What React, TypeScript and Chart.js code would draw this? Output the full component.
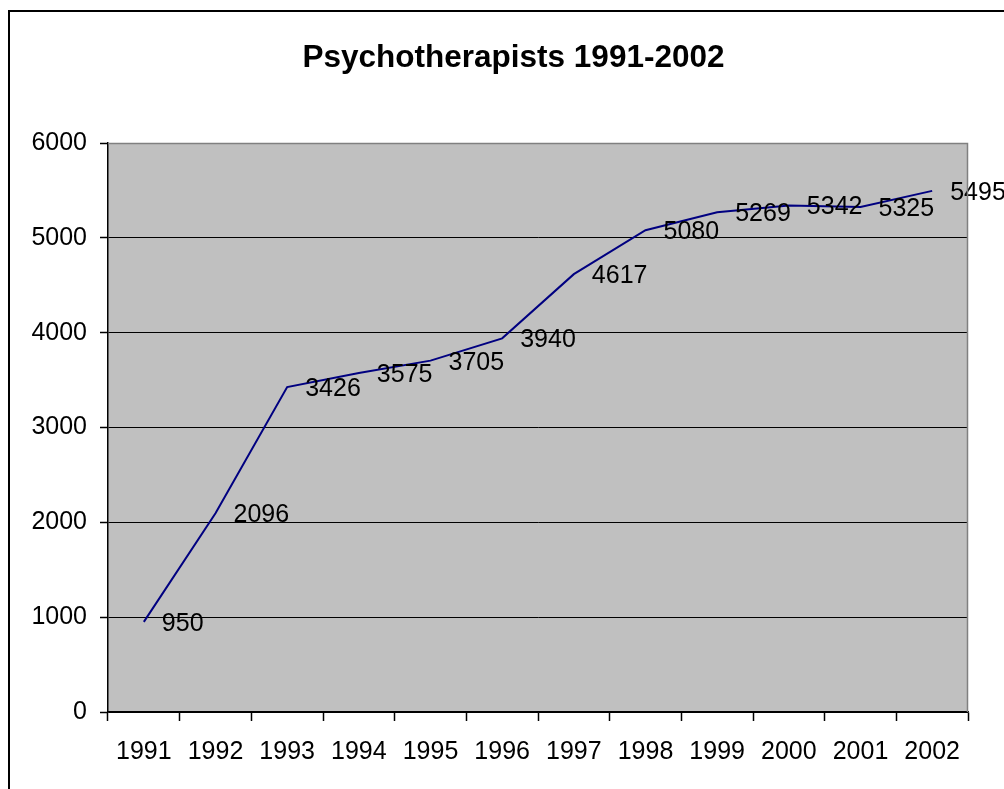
import React, { useEffect, useRef } from "react";
import { Chart, registerables } from "chart.js";

Chart.register(...registerables);

const TITLE = "Psychotherapists 1991-2002";
const years = ["1991", "1992", "1993", "1994", "1995", "1996", "1997", "1998", "1999", "2000", "2001", "2002"];
const therapists = [950, 2096, 3426, 3575, 3705, 3940, 4617, 5080, 5269, 5342, 5325, 5495];
const yMin = 0;
const yMax = 6000;
const yStep = 1000;

const FONT = "'Liberation Sans', Arial, sans-serif";
const LABEL_SIZE = 25;

export default function App() {
  const ref = useRef<HTMLCanvasElement | null>(null);

  useEffect(() => {
    const canvas = ref.current;
    if (!canvas) return;

    const decor = {
      id: "decor",
      beforeDraw(chart: any) {
        const { ctx, chartArea: a } = chart;
        ctx.save();
        ctx.fillStyle = "#ffffff";
        ctx.fillRect(0, 0, chart.width, chart.height);
        ctx.fillStyle = "#c0c0c0";
        ctx.fillRect(a.left, a.top, a.right - a.left, a.bottom - a.top);
        ctx.restore();
      },
      afterDraw(chart: any) {
        const { ctx, chartArea: a } = chart;
        ctx.save();
        ctx.strokeStyle = "#808080";
        ctx.lineWidth = 1.5;
        ctx.beginPath();
        ctx.moveTo(a.left, a.top + 0.5);
        ctx.lineTo(a.right - 0.5, a.top + 0.5);
        ctx.lineTo(a.right - 0.5, a.bottom);
        ctx.stroke();
        ctx.strokeStyle = "#000000";
        ctx.lineWidth = 2;
        ctx.strokeRect(9, 11, chart.width + 20, chart.height + 20);
        ctx.fillStyle = "#000000";
        ctx.font = "bold 31.5px " + FONT;
        ctx.textAlign = "center";
        ctx.textBaseline = "alphabetic";
        ctx.fillText(TITLE, 513.5, 67);
        ctx.restore();
      },
      afterDatasetsDraw(chart: any) {
        const { ctx } = chart;
        const meta = chart.getDatasetMeta(0);
        const data = chart.data.datasets[0].data;
        ctx.save();
        ctx.fillStyle = "#000000";
        ctx.font = LABEL_SIZE + "px " + FONT;
        ctx.textAlign = "left";
        ctx.textBaseline = "middle";
        meta.data.forEach((pt: any, i: number) => {
          ctx.fillText(String(data[i]), pt.x + 18, pt.y + 2);
        });
        ctx.restore();
      },
    };

    const chart = new Chart(canvas, {
      type: "line",
      data: {
        labels: years,
        datasets: [
          {
            data: therapists,
            borderColor: "#000080",
            borderWidth: 2,
            pointRadius: 0,
            tension: 0,
            fill: false,
          },
        ],
      },
      options: {
        responsive: false,
        animation: false,
        layout: { padding: { top: 143, right: 36, bottom: 17, left: 0 } },
        plugins: {
          legend: { display: false },
          title: { display: false },
          tooltip: { enabled: false },
        },
        scales: {
          x: {
            type: "category",
            offset: true,
            afterFit(scale: any) {
              scale.height = 60;
            },
            grid: {
              offset: true,
              drawOnChartArea: false,
              drawTicks: true,
              tickLength: 9,
              tickColor: "#000000",
              tickWidth: 1.5,
            },
            border: { display: true, color: "#000000", width: 1.5 },
            ticks: {
              color: "#000000",
              font: { family: FONT, size: LABEL_SIZE },
              padding: 16,
              maxRotation: 0,
              autoSkip: false,
            },
          },
          y: {
            min: yMin,
            max: yMax,
            afterFit(scale: any) {
              scale.width = 108;
            },
            grid: {
              color: (c: any) => (c.tick && c.tick.value === yMax ? "rgba(0,0,0,0)" : "#000000"),
              lineWidth: 1,
              drawTicks: true,
              tickLength: 8,
              tickColor: "#000000",
              tickWidth: 1.5,
            },
            border: { display: true, color: "#000000", width: 1.5 },
            ticks: {
              stepSize: yStep,
              color: "#000000",
              font: { family: FONT, size: LABEL_SIZE },
              padding: 13,
              callback: (v: any) => String(v),
            },
          },
        },
      },
      plugins: [decor],
    } as any);

    return () => chart.destroy();
  }, []);

  return (
    <div style={{ position: "fixed", left: 0, top: 0, width: 1004, height: 789, background: "#fff" }}>
      <canvas ref={ref} width={1004} height={789} style={{ display: "block", width: 1004, height: 789 }} />
    </div>
  );
}
